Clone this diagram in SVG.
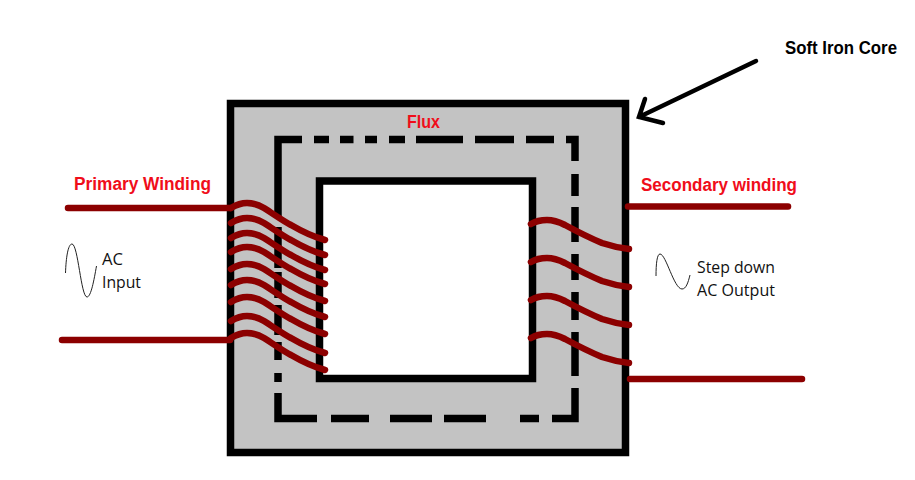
<svg xmlns="http://www.w3.org/2000/svg" width="915" height="480" viewBox="0 0 915 480">
<style>
.core{fill:#c3c3c3;stroke:#000;stroke-width:7.5}
.win{fill:#fff;stroke:#000;stroke-width:7.5}
.flux{fill:none;stroke:#000;stroke-width:7.5}
.wire{fill:none;stroke:#8c0000;stroke-width:6.500;stroke-linecap:round}
.lead{fill:none;stroke:#8c0000;stroke-width:6.500;stroke-linecap:round}
.sine{fill:none;stroke:#222;stroke-width:1}
.arrow{fill:none;stroke:#000;stroke-width:4.500;stroke-linecap:round}
text{font-family:"Liberation Sans",Arial,sans-serif}
.red{font-weight:bold;font-size:17.500px;fill:#f00d1a}
.blk{font-weight:bold;font-size:17.500px;fill:#000}
.lab{font-family:"Open Sans","Liberation Sans",sans-serif;font-size:15.500px;fill:#111}
</style>
<defs>
<path id="pw" class="wire" d="M231 208C236 205 241 203 247 203C254 203 259 205 264 208C275 215 283 221 291 225C303 232 314 237 325 240"/>
<path id="sw" class="wire" d="M531 224C536 221 541 220 547 220C554 220 559 222 565 225C578 232 590 238 602 243C611 246 620 248 629 249"/>
</defs>
<g id="core">
<rect class="core" x="230.500" y="103.500" width="395" height="349"/>
<rect class="win" x="319.500" y="181" width="213" height="197.500"/>
</g>
<g id="flux-path">
<path class="flux" d="M278 218V139.500H302M314 139.500H329M340 139.500H353.500M365 139.500H377M389 139.500H405M416 139.500H463M475 139.500H514M526 139.500H554M566 139.500H575V161M575 174V196M575 207V242M575 254V280M575 292V320M575 332V376M575 388V418.500H552M539 418.500H520M486 418.500H444M432 418.500H390M369 418.500H331M317 418.500H278V393M278 382V373M278 360V342M278 335V305M278 298V272M278 268V227"/>
</g>
<g id="primary-winding">
<path class="lead" d="M68 208H230"/>
<path class="lead" d="M62 340H230"/>
<use href="#pw"/>
<use href="#pw" y="15"/>
<use href="#pw" y="30"/>
<use href="#pw" y="44"/>
<use href="#pw" y="61"/>
<use href="#pw" y="77"/>
<use href="#pw" y="94"/>
<use href="#pw" y="113"/>
<use href="#pw" y="130"/>
</g>
<g id="secondary-winding">
<path class="lead" d="M628 206.500H788"/>
<path class="lead" d="M630 379H802"/>
<use href="#sw"/>
<use href="#sw" y="38"/>
<use href="#sw" y="76"/>
<use href="#sw" y="114"/>
</g>
<g id="soft-iron-arrow">
<path class="arrow" d="M756 61L639 117M645 99L639 117L663 123"/>
</g>
<g id="ac-input-wave">
<path class="sine" d="M65.500 273C66 258 68 244 72 244C78 244 81 297 87 297C91 297 94 280 96.500 266"/>
</g>
<g id="ac-output-wave">
<path class="sine" d="M656 276C656 264 657 254 660 254C666 254 674 289 682 289C686 289 688 283 690 275"/>
</g>
<g id="labels">
<text class="red" x="74" y="190" textLength="137" lengthAdjust="spacingAndGlyphs">Primary Winding</text>
<text class="red" x="407" y="128" textLength="33" lengthAdjust="spacingAndGlyphs">Flux</text>
<text class="red" x="641" y="191" textLength="156" lengthAdjust="spacingAndGlyphs">Secondary winding</text>
<text class="blk" x="785" y="54" textLength="112" lengthAdjust="spacingAndGlyphs">Soft Iron Core</text>
<text class="lab" x="102" y="265" textLength="21" lengthAdjust="spacingAndGlyphs">AC</text>
<text class="lab" x="102" y="288" textLength="39" lengthAdjust="spacingAndGlyphs">Input</text>
<text class="lab" x="697" y="273" textLength="78" lengthAdjust="spacingAndGlyphs">Step down</text>
<text class="lab" x="697" y="296" textLength="78" lengthAdjust="spacingAndGlyphs">AC Output</text>
</g>
</svg>
